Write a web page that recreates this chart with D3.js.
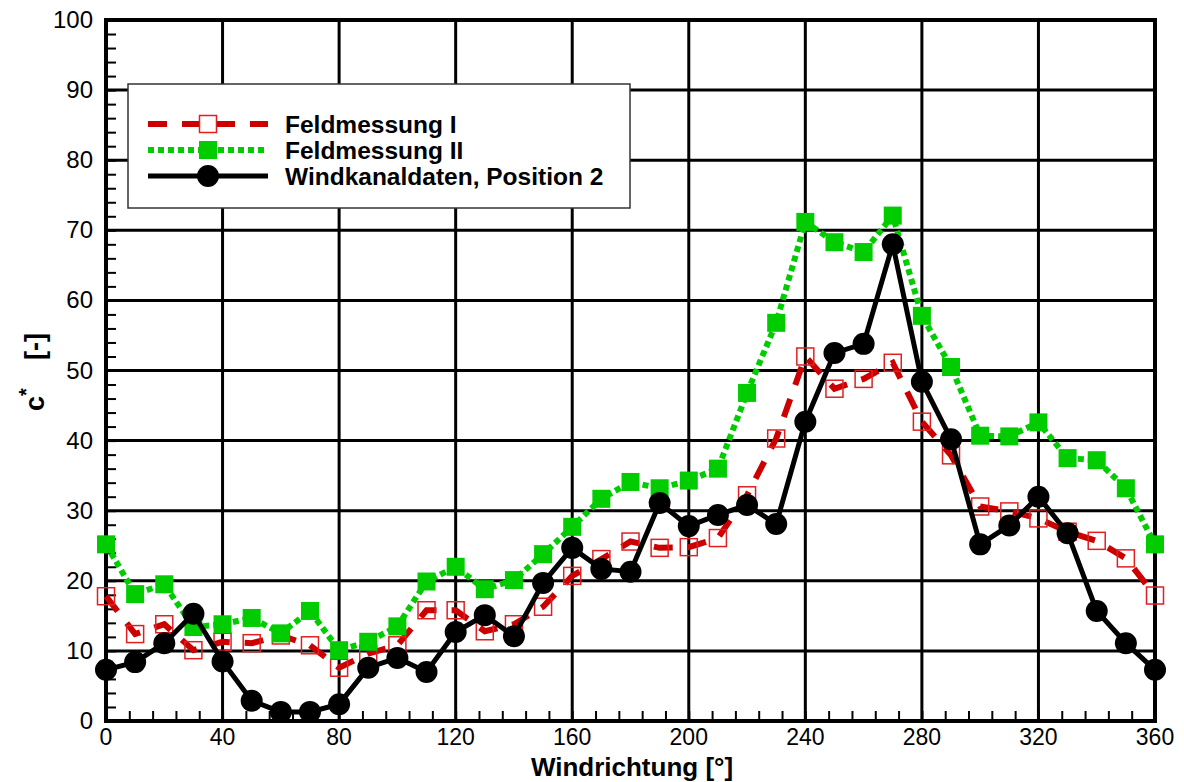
<!DOCTYPE html>
<html>
<head>
<meta charset="utf-8">
<script src="https://cdn.jsdelivr.net/npm/d3@7"></script>
<style>
  body { margin: 0; background: #fff; }
  text { font-family: "Liberation Sans", Arial, sans-serif; }
</style>
</head>
<body>
<div id="wrapper"></div>
<script>
// wind direction in degrees
const angles = d3.range(0, 361, 10)

const feld1 = [17.8, 12.4, 13.8, 10.1, 11.3, 11.1, 12.2, 10.8, 7.6, 9.6, 10.8, 15.8, 15.8, 12.8, 13.8, 16.3,
    20.7, 23.1, 25.6, 24.7, 24.8, 26.1, 32.2, 40.3, 52.0, 47.4, 48.8, 51.1, 42.7, 37.9, 30.6, 29.9, 28.9, 27.0,
    25.7, 23.2, 17.9]
const feld2 = [25.2, 18.1, 19.5, 13.4, 13.8, 14.7, 12.5, 15.7, 10.1, 11.3, 13.5, 19.9, 22.0, 18.8, 20.1, 23.8,
    27.7, 31.7, 34.1, 33.2, 34.3, 36.0, 46.8, 56.8, 71.2, 68.3, 66.9, 72.1, 57.8, 50.5, 40.7, 40.6, 42.6, 37.5,
    37.2, 33.2, 25.2]
const kanal = [7.3, 8.4, 11.1, 15.3, 8.5, 2.9, 1.3, 1.3, 2.4, 7.6, 9.0, 7.0, 12.7, 15.1, 12.1, 19.7,
    24.7, 21.7, 21.3, 31.1, 27.8, 29.4, 30.8, 28.1, 42.7, 52.5, 53.8, 68.0, 48.4, 40.2, 25.2, 27.9, 32.0, 26.8,
    15.7, 11.1, 7.3]

const xTicks = [0, 40, 80, 120, 160, 200, 240, 280, 320, 360]
const yTicks = [0, 10, 20, 30, 40, 50, 60, 70, 80, 90, 100]
const seriesNames = ["Feldmessung I", "Feldmessung II", "Windkanaldaten, Position 2"]

const dimensions = {
    width: 1184,
    height: 782,
    margin: { top: 20, right: 29, bottom: 61, left: 106 },
}
dimensions.boundedWidth = dimensions.width - dimensions.margin.left - dimensions.margin.right
dimensions.boundedHeight = dimensions.height - dimensions.margin.top - dimensions.margin.bottom

const svg = d3.select("#wrapper")
    .append("svg")
    .attr("width", dimensions.width)
    .attr("height", dimensions.height)

const bounds = svg.append("g")
    .attr("transform", `translate(${dimensions.margin.left},${dimensions.margin.top})`)

const xScale = d3.scaleLinear().domain([0, 360]).range([0, dimensions.boundedWidth])
const yScale = d3.scaleLinear().domain([0, 100]).range([dimensions.boundedHeight, 0])

// grid
bounds.append("g")
    .selectAll("line")
    .data(xTicks)
    .join("line")
    .attr("x1", d => xScale(d)).attr("x2", d => xScale(d))
    .attr("y1", 0).attr("y2", dimensions.boundedHeight)
    .attr("stroke", "black").attr("stroke-width", 3)
bounds.append("g")
    .selectAll("line")
    .data(yTicks)
    .join("line")
    .attr("x1", 0).attr("x2", dimensions.boundedWidth)
    .attr("y1", d => yScale(d)).attr("y2", d => yScale(d))
    .attr("stroke", "black").attr("stroke-width", 3)

// axes with inward minor ticks
const xAxis = bounds.append("g")
    .attr("transform", `translate(0,${dimensions.boundedHeight})`)
    .call(d3.axisBottom(xScale).tickValues(d3.range(0, 361, 8)).tickSize(-10).tickFormat(""))
xAxis.select(".domain").remove()
xAxis.selectAll(".tick line").attr("stroke-width", 2)

const yAxis = bounds.append("g")
    .call(d3.axisLeft(yScale).tickValues(d3.range(0, 101, 2)).tickSize(-10).tickFormat(""))
yAxis.select(".domain").remove()
yAxis.selectAll(".tick line").attr("stroke-width", 2)

// tick labels
bounds.append("g")
    .selectAll("text")
    .data(xTicks)
    .join("text")
    .attr("x", d => xScale(d))
    .attr("y", dimensions.boundedHeight + 24)
    .attr("text-anchor", "middle")
    .attr("font-size", 23)
    .text(d => d)
bounds.append("g")
    .selectAll("text")
    .data(yTicks)
    .join("text")
    .attr("x", -13)
    .attr("y", d => yScale(d) + 8)
    .attr("text-anchor", "end")
    .attr("font-size", 24)
    .text(d => d)

// frame
bounds.append("rect")
    .attr("width", dimensions.boundedWidth)
    .attr("height", dimensions.boundedHeight)
    .attr("fill", "none")
    .attr("stroke", "black")
    .attr("stroke-width", 4)

// axis titles
svg.append("text")
    .attr("x", 632)
    .attr("y", 776)
    .attr("text-anchor", "middle")
    .attr("font-size", 26)
    .attr("font-weight", "bold")
    .text("Windrichtung [°]")

const yLabel = svg.append("text")
    .attr("transform", "translate(44,372) rotate(-90)")
    .attr("text-anchor", "middle")
    .attr("font-size", 27)
    .attr("font-weight", "bold")
yLabel.append("tspan").text("c")
yLabel.append("tspan").attr("dy", -11).attr("font-size", 20).text("*")
yLabel.append("tspan").attr("dy", 11).attr("dx", 28).text("[-]")

// series
const line = d3.line()
    .x((d, i) => xScale(angles[i]))
    .y(d => yScale(d))

const plot = bounds.append("g")

plot.append("path")
    .datum(feld1)
    .attr("d", line)
    .attr("fill", "none")
    .attr("stroke", "#cc0000")
    .attr("stroke-width", 6)
    .attr("stroke-dasharray", "19,15")
plot.append("g")
    .selectAll("rect")
    .data(feld1)
    .join("rect")
    .attr("x", (d, i) => xScale(angles[i]) - 8.5)
    .attr("y", d => yScale(d) - 8.5)
    .attr("width", 17).attr("height", 17)
    .attr("fill", "none")
    .attr("stroke", "#e02020")
    .attr("stroke-width", 1.5)

plot.append("path")
    .datum(feld2)
    .attr("d", line)
    .attr("fill", "none")
    .attr("stroke", "#00cc00")
    .attr("stroke-width", 6)
    .attr("stroke-dasharray", "6,4")
plot.append("g")
    .selectAll("rect")
    .data(feld2)
    .join("rect")
    .attr("x", (d, i) => xScale(angles[i]) - 9)
    .attr("y", d => yScale(d) - 9)
    .attr("width", 18).attr("height", 18)
    .attr("fill", "#00cc00")

plot.append("path")
    .datum(kanal)
    .attr("d", line)
    .attr("fill", "none")
    .attr("stroke", "black")
    .attr("stroke-width", 5)
plot.append("g")
    .selectAll("circle")
    .data(kanal)
    .join("circle")
    .attr("cx", (d, i) => xScale(angles[i]))
    .attr("cy", d => yScale(d))
    .attr("r", 11)
    .attr("fill", "black")

// legend
const legend = svg.append("g").attr("transform", "translate(128,84)")
legend.append("rect")
    .attr("width", 502).attr("height", 124)
    .attr("fill", "white")
    .attr("stroke", "#333").attr("stroke-width", 1.5)

const rows = legend.selectAll(".row")
    .data(seriesNames)
    .join("g")
    .attr("transform", (d, i) => `translate(0,${40 + i * 26})`)

rows.append("line")
    .attr("x1", 20).attr("x2", 140)
    .attr("stroke", (d, i) => ["#cc0000", "#00cc00", "black"][i])
    .attr("stroke-width", (d, i) => [6, 6, 5][i])
    .attr("stroke-dasharray", (d, i) => ["19,15", "6,4", null][i])
rows.each(function(d, i) {
    const g = d3.select(this)
    if (i == 0) {
        g.append("rect").attr("x", 71.5).attr("y", -8.5).attr("width", 17).attr("height", 17)
            .attr("fill", "white").attr("stroke", "#e02020").attr("stroke-width", 1.5)
    } else if (i == 1) {
        g.append("rect").attr("x", 71).attr("y", -9).attr("width", 18).attr("height", 18)
            .attr("fill", "#00cc00")
    } else {
        g.append("circle").attr("cx", 80).attr("r", 11).attr("fill", "black")
    }
})
rows.append("text")
    .attr("x", 157)
    .attr("y", 9)
    .attr("font-size", 24.5)
    .attr("font-weight", "bold")
    .text(d => d)
</script>
</body>
</html>
